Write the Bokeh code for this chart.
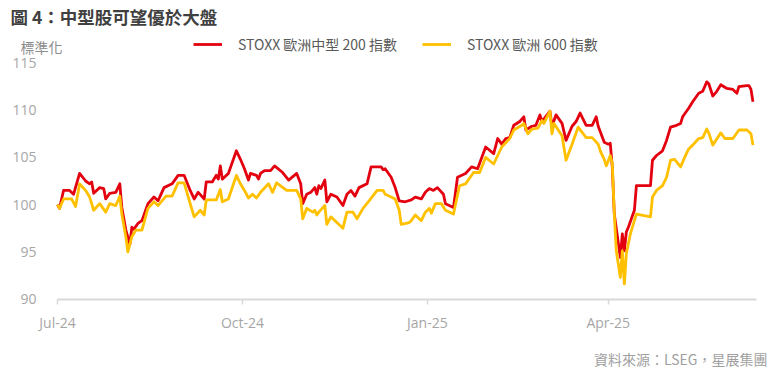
import pandas as pd
from bokeh.plotting import figure
from bokeh.models import (Range1d, FixedTicker, DatetimeTickFormatter, Label,
                          Legend, LegendItem, ColumnDataSource)
from bokeh.embed import file_html
from bokeh.resources import INLINE

# ---------------- data ----------------
tick_dates = ["2024-07-01", "2024-10-01", "2025-01-01", "2025-04-01"]
y_ticks = [90, 95, 100, 105, 110, 115]

mid_dates = [
    "2024-07-01", "2024-07-02", "2024-07-04", "2024-07-07", "2024-07-09", "2024-07-12", "2024-07-15",
    "2024-07-17", "2024-07-18", "2024-07-19", "2024-07-22", "2024-07-24", "2024-07-25", "2024-07-27",
    "2024-07-30", "2024-08-01", "2024-08-02", "2024-08-04", "2024-08-06", "2024-08-07", "2024-08-08",
    "2024-08-10", "2024-08-12", "2024-08-15", "2024-08-18", "2024-08-20", "2024-08-23", "2024-08-27",
    "2024-08-30", "2024-09-02", "2024-09-05", "2024-09-07", "2024-09-09", "2024-09-12", "2024-09-13",
    "2024-09-16", "2024-09-18", "2024-09-19", "2024-09-20", "2024-09-21", "2024-09-24", "2024-09-28",
    "2024-09-30", "2024-10-02", "2024-10-04", "2024-10-05", "2024-10-08", "2024-10-09", "2024-10-10",
    "2024-10-12", "2024-10-15", "2024-10-17", "2024-10-21", "2024-10-24", "2024-10-28", "2024-10-30",
    "2024-10-31", "2024-11-02", "2024-11-04", "2024-11-06", "2024-11-07", "2024-11-08", "2024-11-09",
    "2024-11-11", "2024-11-12", "2024-11-14", "2024-11-17", "2024-11-20", "2024-11-22", "2024-11-24",
    "2024-11-26", "2024-11-28", "2024-12-02", "2024-12-04", "2024-12-09", "2024-12-10", "2024-12-11",
    "2024-12-14", "2024-12-16", "2024-12-18", "2024-12-21", "2024-12-24", "2024-12-26", "2024-12-29",
    "2024-12-31", "2025-01-02", "2025-01-04", "2025-01-06", "2025-01-09", "2025-01-10", "2025-01-14",
    "2025-01-16", "2025-01-20", "2025-01-23", "2025-01-26", "2025-01-30", "2025-02-03", "2025-02-05",
    "2025-02-07", "2025-02-09", "2025-02-11", "2025-02-13", "2025-02-16", "2025-02-18", "2025-02-19",
    "2025-02-22", "2025-02-24", "2025-02-26", "2025-02-27", "2025-03-03", "2025-03-04", "2025-03-06",
    "2025-03-09", "2025-03-11", "2025-03-14", "2025-03-16", "2025-03-18", "2025-03-21", "2025-03-24",
    "2025-03-26", "2025-03-27", "2025-03-30", "2025-04-01", "2025-04-02", "2025-04-03", "2025-04-04",
    "2025-04-07", "2025-04-08", "2025-04-09", "2025-04-10", "2025-04-11", "2025-04-14", "2025-04-15",
    "2025-04-22", "2025-04-23", "2025-04-25", "2025-04-28", "2025-04-30", "2025-05-02", "2025-05-05",
    "2025-05-07", "2025-05-08", "2025-05-11", "2025-05-13", "2025-05-16", "2025-05-18", "2025-05-20",
    "2025-05-21", "2025-05-23", "2025-05-25", "2025-05-27", "2025-05-30", "2025-06-02", "2025-06-04",
    "2025-06-05", "2025-06-09", "2025-06-10", "2025-06-11", "2025-06-12",
]
mid_vals = [
    100.0, 99.6, 101.5, 101.5, 101.1, 103.3, 102.5,
    102.2, 102.4, 101.2, 101.8, 101.7, 100.6, 101.2,
    101.3, 102.2, 99.7, 97.3, 95.8, 97.6, 97.4,
    98.0, 98.3, 100.1, 100.8, 100.4, 101.8, 102.2,
    103.1, 103.1, 101.5, 100.6, 101.3, 100.6, 102.4,
    102.4, 103.1, 102.7, 104.1, 102.7, 103.3, 105.7,
    104.8, 103.8, 102.6, 103.3, 103.1, 102.7, 103.3,
    103.6, 103.6, 104.1, 103.4, 102.6, 103.3, 102.2,
    100.1, 101.1, 101.3, 101.8, 101.1, 102.0, 101.7,
    102.6, 100.3, 101.1, 100.8, 99.9, 101.1, 101.5,
    100.9, 101.8, 102.2, 104.0, 104.0, 103.7, 103.8,
    102.9, 101.8, 100.4, 100.3, 100.5, 100.8, 100.6,
    101.3, 101.7, 101.5, 101.8, 101.1, 100.1, 99.7,
    102.9, 103.3, 104.0, 103.8, 106.1, 105.4, 107.0,
    106.4, 107.0, 107.1, 108.4, 108.8, 109.3, 107.9,
    108.3, 108.4, 109.5, 108.8, 109.9, 108.3, 109.5,
    108.6, 106.8, 108.3, 108.8, 109.7, 108.4, 108.4,
    109.3, 108.3, 106.6, 106.4, 106.5, 104.0, 99.0,
    94.4, 96.9, 95.1, 97.1, 97.6, 99.4, 102.0,
    102.0, 104.7, 105.2, 105.7, 106.8, 108.2, 108.4,
    108.6, 109.3, 110.2, 110.9, 111.8, 112.0, 113.0,
    112.8, 111.5, 112.0, 112.7, 112.3, 112.2, 111.8,
    112.5, 112.6, 112.6, 112.2, 110.9,
]

broad_dates = [
    "2024-07-01", "2024-07-02", "2024-07-04", "2024-07-08", "2024-07-10", "2024-07-12", "2024-07-15",
    "2024-07-17", "2024-07-19", "2024-07-22", "2024-07-25", "2024-07-27", "2024-07-30", "2024-08-01",
    "2024-08-02", "2024-08-04", "2024-08-05", "2024-08-07", "2024-08-09", "2024-08-12", "2024-08-15",
    "2024-08-18", "2024-08-20", "2024-08-24", "2024-08-27", "2024-08-30", "2024-09-02", "2024-09-05",
    "2024-09-07", "2024-09-10", "2024-09-12", "2024-09-13", "2024-09-18", "2024-09-20", "2024-09-21",
    "2024-09-24", "2024-09-28", "2024-09-30", "2024-10-02", "2024-10-04", "2024-10-06", "2024-10-08",
    "2024-10-10", "2024-10-14", "2024-10-16", "2024-10-18", "2024-10-23", "2024-10-28", "2024-10-30",
    "2024-10-31", "2024-11-02", "2024-11-05", "2024-11-06", "2024-11-07", "2024-11-08", "2024-11-11",
    "2024-11-12", "2024-11-14", "2024-11-17", "2024-11-20", "2024-11-22", "2024-11-25", "2024-11-27",
    "2024-11-30", "2024-12-03", "2024-12-07", "2024-12-10", "2024-12-11", "2024-12-14", "2024-12-16",
    "2024-12-18", "2024-12-19", "2024-12-23", "2024-12-24", "2024-12-26", "2024-12-29", "2024-12-31",
    "2025-01-02", "2025-01-03", "2025-01-05", "2025-01-08", "2025-01-10", "2025-01-14", "2025-01-17",
    "2025-01-20", "2025-01-24", "2025-01-27", "2025-01-30", "2025-02-03", "2025-02-07", "2025-02-11",
    "2025-02-13", "2025-02-17", "2025-02-18", "2025-02-20", "2025-02-22", "2025-02-25", "2025-02-27",
    "2025-02-28", "2025-03-03", "2025-03-04", "2025-03-05", "2025-03-09", "2025-03-11", "2025-03-14",
    "2025-03-17", "2025-03-21", "2025-03-24", "2025-03-27", "2025-03-28", "2025-03-30", "2025-03-31",
    "2025-04-02", "2025-04-03", "2025-04-04", "2025-04-05", "2025-04-07", "2025-04-08", "2025-04-09",
    "2025-04-10", "2025-04-12", "2025-04-15", "2025-04-22", "2025-04-23", "2025-04-25", "2025-04-28",
    "2025-04-30", "2025-05-02", "2025-05-04", "2025-05-07", "2025-05-09", "2025-05-11", "2025-05-13",
    "2025-05-16", "2025-05-18", "2025-05-20", "2025-05-21", "2025-05-23", "2025-05-27", "2025-05-29",
    "2025-06-02", "2025-06-05", "2025-06-09", "2025-06-11", "2025-06-12",
]
broad_vals = [
    100.0, 99.6, 100.6, 100.6, 99.8, 102.2, 101.5,
    100.8, 99.4, 100.1, 99.2, 100.1, 99.9, 100.9,
    99.0, 96.6, 95.0, 96.6, 97.3, 97.3, 99.6,
    100.3, 99.9, 100.9, 100.9, 102.3, 102.3, 100.1,
    98.7, 99.4, 98.9, 100.5, 100.5, 101.6, 100.3,
    100.6, 103.1, 102.2, 101.5, 100.7, 101.1, 100.7,
    101.3, 102.2, 101.3, 102.3, 101.5, 101.5, 100.6,
    98.5, 99.6, 99.2, 99.4, 98.9, 99.2, 99.9,
    97.9, 98.7, 98.1, 97.5, 99.2, 99.2, 98.5,
    99.6, 100.4, 101.5, 101.5, 101.1, 100.8, 100.6,
    99.4, 97.9, 98.1, 98.3, 98.9, 98.3, 99.2,
    99.6, 99.1, 100.1, 100.1, 99.4, 99.0, 102.0,
    102.2, 103.4, 103.4, 105.0, 104.3, 106.1, 107.0,
    107.9, 108.4, 108.6, 107.5, 108.0, 108.1, 108.9,
    108.6, 109.9, 107.5, 108.6, 107.3, 104.7, 106.4,
    108.2, 107.1, 107.1, 106.4, 105.7, 104.8, 104.1,
    105.2, 104.4, 99.0, 95.1, 92.3, 95.1, 91.6,
    94.8, 96.9, 99.0, 98.7, 100.8, 101.5, 102.0,
    102.9, 104.7, 104.8, 104.0, 105.0, 105.9, 106.3,
    107.0, 107.1, 108.0, 107.6, 106.3, 107.6, 107.0,
    107.0, 107.9, 107.9, 107.5, 106.3,
]

title_text = "圖 4：中型股可望優於大盤"
y_unit_text = "標準化"
mid_label = "STOXX 歐洲中型 200 指數"
broad_label = "STOXX 歐洲 600 指數"
source_text = "資料來源：LSEG，星展集團"

RED = "#e3000f"
YELLOW = "#ffc000"
CJK = "Noto Sans CJK TC"

# ---------------- layout geometry (pixels) ----------------
W, H = 782, 376
AX_LEFT, AX_RIGHT = 57.0, 756.0      # pixel x of axis start / end
AX_TOP, AX_BOTTOM = 62.5, 298.5      # pixel y of 115 and 90
x0 = pd.Timestamp("2024-07-01")
x1 = pd.Timestamp("2025-06-13 18:00")
px_per_ms = (AX_RIGHT - AX_LEFT) / (x1 - x0).value * 1e6
ms0 = x0.value / 1e6
ms1 = x1.value / 1e6
xr_start = ms0 - AX_LEFT / px_per_ms
xr_end = ms1 + (W - AX_RIGHT) / px_per_ms
px_per_unit = (AX_BOTTOM - AX_TOP) / (115 - 90)
yr_end = 115 + AX_TOP / px_per_unit
yr_start = 90 - (H - AX_BOTTOM) / px_per_unit

p = figure(width=W, height=H, x_axis_type="datetime", output_backend="svg",
           toolbar_location=None, min_border=0,
           min_border_left=0, min_border_right=0, min_border_top=0, min_border_bottom=0,
           x_range=Range1d(xr_start, xr_end), y_range=Range1d(yr_start, yr_end))
p.outline_line_color = None
p.background_fill_color = "white"
p.border_fill_color = "white"
p.xgrid.visible = False
p.ygrid.visible = False

mid_src = ColumnDataSource(dict(x=pd.to_datetime(mid_dates), y=mid_vals))
broad_src = ColumnDataSource(dict(x=pd.to_datetime(broad_dates), y=broad_vals))

r_mid = p.line("x", "y", source=mid_src, line_color=RED, line_width=2.8, line_join="round")
r_broad = p.line("x", "y", source=broad_src, line_color=YELLOW, line_width=2.8, line_join="round")

# y axis (drawn at the start of the time axis)
ya = p.yaxis[0]
ya.fixed_location = ms0
ya.ticker = FixedTicker(ticks=y_ticks)
ya.bounds = (90, 115)
ya.axis_line_color = None
ya.major_tick_line_color = None
ya.minor_tick_line_color = None
ya.major_label_text_color = "#a6a6a6"
ya.major_label_text_font = "Open Sans"
ya.major_label_text_font_size = "14px"
ya.major_label_standoff = 15

# x axis (drawn at y = 90)
xa = p.xaxis[0]
xa.fixed_location = 90
xa.bounds = (ms0, ms1)
xa.ticker = FixedTicker(ticks=[pd.Timestamp(d).value // 10**6 for d in tick_dates])
fmt = "%b-%y"
xa.formatter = DatetimeTickFormatter(days=fmt, months=fmt, years=fmt, hours=fmt,
                                     minutes=fmt, seconds=fmt, milliseconds=fmt,
                                     minsec=fmt, hourmin=fmt)
xa.axis_line_color = "#d9d9d9"
xa.axis_line_width = 2
xa.major_tick_line_color = "#d9d9d9"
xa.major_tick_line_width = 1.5
xa.major_tick_out = 5
xa.major_tick_in = 0
xa.minor_tick_line_color = None
xa.major_label_text_color = "#a6a6a6"
xa.major_label_text_font = "Open Sans"
xa.major_label_text_font_size = "14px"
xa.major_label_standoff = 9

# legend (frame = whole canvas; location is bottom-left, measured from bottom)
legend = Legend(items=[LegendItem(label=mid_label, renderers=[r_mid]),
                       LegendItem(label=broad_label, renderers=[r_broad])],
                orientation="horizontal", location=(193, H - 54),
                glyph_width=29, glyph_height=20, label_standoff=16, spacing=25,
                padding=0, margin=0, border_line_color=None, background_fill_alpha=0,
                label_text_font=CJK, label_text_font_size="14px",
                label_text_color="#595959", label_height=20)
p.add_layout(legend, "center")

# texts (screen units measured from bottom-left of the canvas)
p.add_layout(Label(x=10, y=H - 16, x_units="screen", y_units="screen", text=title_text,
                   text_font=CJK, text_font_style="bold", text_font_size="17.5px",
                   text_color="#404040", text_baseline="middle", text_align="left"))
p.add_layout(Label(x=20, y=H - 46, x_units="screen", y_units="screen", text=y_unit_text,
                   text_font=CJK, text_font_size="14px",
                   text_color="#8c8c8c", text_baseline="middle", text_align="left"))
p.add_layout(Label(x=767, y=H - 358, x_units="screen", y_units="screen", text=source_text,
                   text_font=CJK, text_font_size="14px",
                   text_color="#a0a0a0", text_baseline="middle", text_align="right"))

open("out.html", "w").write(file_html(p, INLINE))
